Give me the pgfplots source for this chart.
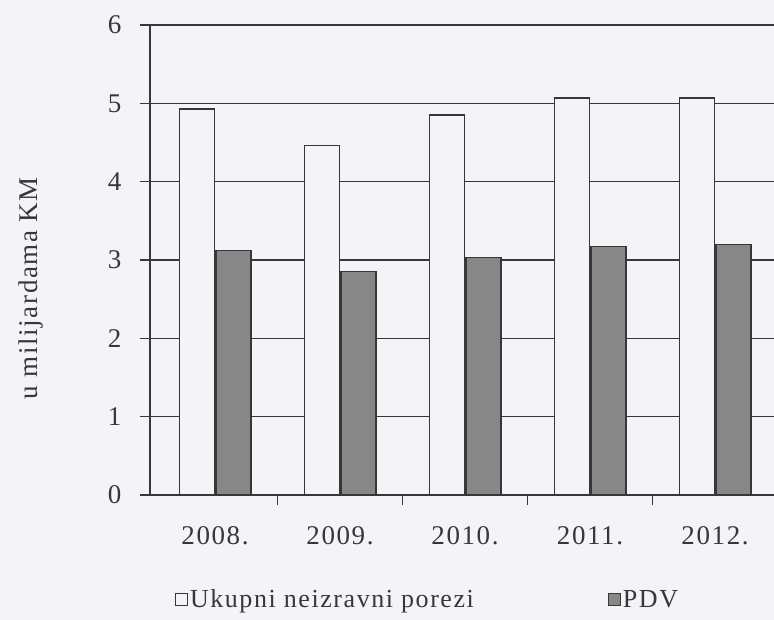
\documentclass[border=0pt]{standalone}
\usepackage{pgfplots}
\pgfplotsset{compat=1.18}
\usepackage{fontspec}
\setmainfont{Liberation Serif}[LetterSpace=6]
\definecolor{bg}{RGB}{244,244,248}
\definecolor{ln}{RGB}{55,55,55}
\definecolor{txt}{RGB}{55,55,55}
\definecolor{pdv}{RGB}{135,135,135}
\begin{document}
\begin{tikzpicture}
\useasboundingbox (0,0) rectangle (774pt,620pt);
\fill[bg] (0,0) rectangle (774pt,620pt);
\clip (0,0) rectangle (774pt,620pt);
\begin{axis}[
  at={(150pt,125pt)}, anchor=south west,
  width=624pt, height=470pt, scale only axis,
  xmin=-0.52, xmax=4.472, ymin=0, ymax=6,
  axis x line*=bottom, axis y line*=left,
  axis line style={-, ln, line width=1.6pt},
  ybar=1.5pt, bar width=35pt,
  xtick={0,1,2,3,4}, xticklabels={2008.,2009.,2010.,2011.,2012.},
  major x tick style={draw=none},
  minor xtick={0.5,1.5,2.5,3.5},
  minor tick length=10pt, major tick length=10pt, tick align=outside,
  tick style={ln, line width=1.2pt},
  ytick={0,1,2,3,4,5,6},
  /pgf/number format/assume math mode=true,
  ymajorgrids, grid style={ln, line width=1.2pt},
  tick label style={font=\fontsize{27}{30}\selectfont, text=txt},
  xticklabel style={yshift=-18pt},
  yticklabel style={xshift=-15pt},
  ylabel={u milijardama KM},
  ylabel style={font=\fontsize{27}{30}\selectfont, text=txt, at={(axis description cs:-0.19,0.44)}, anchor=center},
  legend style={at={(rel axis cs:0.035,-0.222)}, anchor=west, draw=none, fill=none,
    font=\fontsize{26}{28}\selectfont, text=txt, legend columns=2,
    /tikz/every even column/.append style={column sep=132pt}},
]
\addplot[draw=ln, line width=1.5pt, fill=bg,
  legend image code/.code={\draw[draw=ln, fill=bg, line width=1pt] (0pt,-6pt) rectangle (12pt,6pt);}]
  coordinates {(0,4.93) (1,4.46) (2,4.85) (3,5.07) (4,5.07)};
\addlegendentry{Ukupni neizravni porezi}
\addplot[draw=ln, line width=1.5pt, fill=pdv,
  legend image code/.code={\draw[draw=ln, fill=pdv, line width=1pt] (0pt,-6pt) rectangle (12pt,6pt);}]
  coordinates {(0,3.12) (1,2.85) (2,3.03) (3,3.17) (4,3.2)};
\addlegendentry{PDV}
\end{axis}
\end{tikzpicture}
\end{document}
